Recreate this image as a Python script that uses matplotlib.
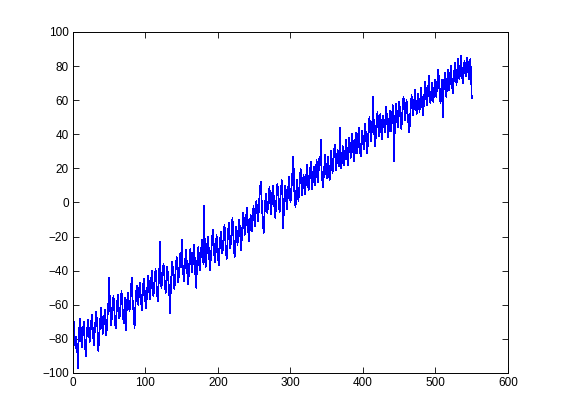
import numpy as np
import matplotlib.pyplot as plt

# valores leidos a ojo del grafico (x = 1..550)
y_vals = [
    -70, -76, -84, -79, -88, -83, -97, -80, -72, -68, -77, -85, -81, -74, -70, -79, -86, -90, -78, -73, -69, -75, -82, -77, -71,
    -66, -72, -79, -84, -76, -70, -64, -69, -75, -87, -80, -73, -67, -62, -70, -77, -74, -68, -63, -71, -78, -72, -65, -58, -44,
    -60, -67, -72, -64, -58, -55, -63, -70, -74, -66, -59, -54, -61, -68, -65, -57, -52, -59, -66, -71, -62, -56, -75, -64, -57,
    -53, -58, -64, -60, -52, -44, -55, -61, -66, -74, -62, -54, -49, -56, -60, -53, -47, -51, -58, -63, -55, -48, -45, -52, -59,
    -62, -54, -47, -43, -50, -57, -52, -45, -40, -48, -55, -50, -44, -39, -46, -53, -58, -49, -42, -23, -41, -50, -47, -40, -36,
    -43, -49, -53, -45, -38, -42, -48, -55, -65, -50, -41, -35, -40, -46, -51, -44, -37, -32, -39, -47, -43, -36, -30, -38, -22,
    -35, -41, -46, -39, -33, -28, -36, -43, -48, -40, -32, -27, -34, -41, -37, -30, -25, -33, -44, -50, -38, -31, -26, -35, -40,
    -33, -27, -22, -29, -36, -2, -31, -38, -33, -26, -20, -25, -32, -40, -34, -27, -21, -16, -24, -31, -35, -28, -19, -23, -30,
    -37, -29, -22, -17, -24, -30, -26, -18, -13, -21, -28, -33, -25, -17, -12, -20, -27, -23, -15, -9, -18, -26, -32, -22, -14,
    -19, -25, -17, -10, -14, -21, -28, -20, -12, -6, -13, -19, -15, -8, -3, -11, -18, -23, -14, -7, -12, -17, -9, -2, -8,
    -14, -6, 1, -4, -11, -7, 2, 8, 12, 3, -5, -12, -18, -8, -1, 5, 1, -6, -3, 4, 9, 2, -7, -2, 6,
    10, 3, -4, -9, -2, 5, 11, 7, -1, -6, 2, 8, 13, 4, -15, -3, 6, 10, 3, -4, 1, 9, 15, 7, 0,
    5, 12, 18, 27, 9, 2, -3, 6, 13, 8, 1, 7, 14, 20, 11, 4, 9, 16, 12, 5, 10, 17, 22, 13, 7,
    11, 18, 24, 15, 8, 14, 21, 17, 10, 16, 25, 19, 12, 20, 27, 22, 37, 18, 13, 9, 16, 23, 28, 19, 14,
    21, 27, 18, 13, 22, 30, 25, 17, 23, 29, 34, 26, 19, 24, 31, 28, 21, 44, 27, 20, 25, 33, 29, 22, 26,
    32, 37, 28, 22, 30, 38, 34, 26, 31, 40, 35, 27, 24, 33, 41, 36, 29, 34, 44, 38, 30, 27, 35, 42, 37,
    31, 39, 46, 40, 34, 29, 37, 45, 50, 42, 36, 41, 48, 62, 44, 38, 33, 42, 49, 53, 45, 39, 46, 52, 43,
    37, 44, 51, 47, 41, 49, 56, 50, 43, 38, 46, 54, 48, 42, 50, 57, 45, 24, 47, 53, 58, 49, 44, 52, 59,
    54, 47, 43, 51, 58, 62, 55, 48, 53, 60, 56, 49, 45, 41, 50, 57, 63, 58, 51, 55, 61, 66, 57, 52, 59,
    64, 58, 53, 60, 67, 62, 55, 51, 59, 66, 71, 63, 57, 61, 68, 74, 65, 58, 63, 70, 66, 59, 64, 72, 68,
    62, 67, 74, 78, 69, 63, 58, 66, 72, 50, 64, 71, 76, 68, 62, 70, 78, 73, 66, 72, 80, 75, 68, 64, 71,
    77, 82, 74, 69, 76, 84, 79, 72, 78, 86, 80, 73, 70, 77, 83, 79, 74, 81, 85, 78, 72, 80, 84, 76, 61,
]
x_vals = np.arange(1, len(y_vals) + 1)

x_ticks = [0, 100, 200, 300, 400, 500, 600]
y_ticks = [-100, -80, -60, -40, -20, 0, 20, 40, 60, 80, 100]

plt.rcParams['font.family'] = ['Liberation Sans', 'DejaVu Sans']

fig = plt.figure(figsize=(5.61, 4.2), dpi=100)
ax = fig.add_axes([0.13, 0.112, 0.7755, 0.812])

ax.plot(x_vals, y_vals, color=(0, 0, 1), lw=0.5, antialiased=False)

ax.set_xlim(0, 600)
ax.set_ylim(-100, 100)
ax.set_xticks(x_ticks)
ax.set_yticks(y_ticks)
ax.tick_params(direction='in', length=4, width=0.6, labelsize=8.5,
               top=True, right=True, pad=3)
for s in ax.spines.values():
    s.set_linewidth(0.7)

fig.savefig('out.png', dpi=100)
